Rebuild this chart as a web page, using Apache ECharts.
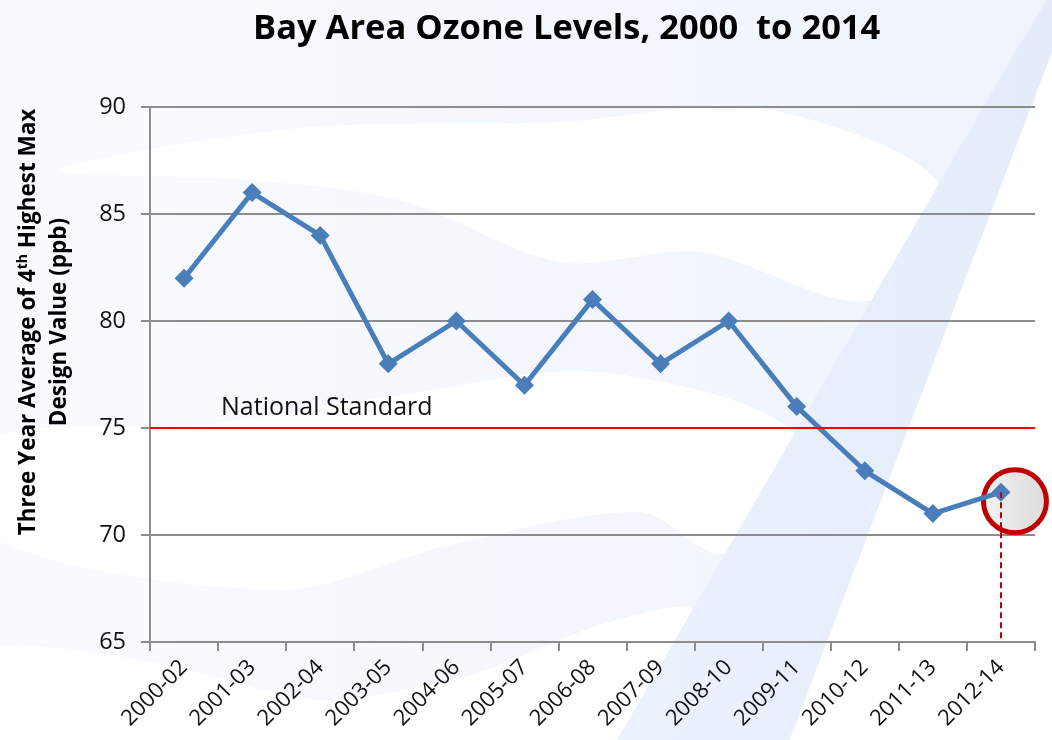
<!DOCTYPE html>
<html>
<head>
<meta charset="utf-8">
<script src="https://cdn.jsdelivr.net/npm/echarts@6/dist/echarts.min.js"></script>
<style>
  html, body { margin: 0; padding: 0; background: #fff; }
  #chart { width: 1052px; height: 740px; }
</style>
</head>
<body>
<div id="chart"></div>
<script>
  // data
  const periods = ['2000-02', '2001-03', '2002-04', '2003-05', '2004-06', '2005-07', '2006-08',
    '2007-09', '2008-10', '2009-11', '2010-12', '2011-13', '2012-14'];
  const ozone = [82, 86, 84, 78, 80, 77, 81, 78, 80, 76, 73, 71, 72];
  const nationalStandard = 75;
  const yTicks = { min: 65, max: 90, interval: 5 };

  const lastIdx = periods.length - 1;
  const font = '"Open Sans", "Noto Sans", sans-serif';

  let myChart = echarts.init(document.getElementById('chart'));

  // background decoration (light blue swooshes behind the plot)
  const bgShapes = [
    {
      type: 'rect', z: -110, silent: true,
      shape: { x: 0, y: 0, width: 1052, height: 740 },
      style: {
        fill: new echarts.graphic.LinearGradient(0, 0, 1, 0, [
          { offset: 0, color: '#fafbfe' },
          { offset: 1, color: '#eef3fc' }
        ])
      }
    },
    // white gaps between the swooshes
    {
      type: 'polygon', z: -100, silent: true,
      shape: {
        smooth: 0.3,
        points: [[60, 170], [300, 128], [560, 122], [760, 108], [940, 185], [872, 300], [700, 252], [560, 262], [400, 200], [250, 180]]
      },
      style: { fill: '#ffffff' }
    },
    {
      type: 'polygon', z: -100, silent: true,
      shape: {
        smooth: 0.3,
        points: [[-10, 440], [200, 425], [400, 395], [600, 372], [795, 435], [725, 553], [640, 512], [450, 545], [280, 590], [-10, 537]]
      },
      style: { fill: '#ffffff' }
    },
    {
      type: 'polygon', z: -100, silent: true,
      shape: {
        smooth: 0.25,
        points: [[-10, 650], [150, 662], [320, 700], [470, 675], [600, 625], [692, 610], [617, 745], [-10, 745]]
      },
      style: { fill: '#ffffff' }
    },
    {
      type: 'polygon', z: -100, silent: true,
      shape: { points: [[1060, 30], [1100, 30], [1100, 745], [788, 745]] },
      style: { fill: '#ffffff' }
    },
    // the big diagonal stroke
    {
      type: 'polygon', z: -90, silent: true,
      shape: { points: [[1047, 0], [1072, 0], [789, 740], [617, 740], [1018, 47]] },
      style: {
        fill: new echarts.graphic.LinearGradient(0, 0, 1, 0, [
          { offset: 0, color: '#ecf2fc' },
          { offset: 1, color: '#e4ecfb' }
        ])
      }
    }
  ];

  let option = {
    animation: false,
    backgroundColor: '#ffffff',
    textStyle: { fontFamily: font },
    title: {
      text: 'Bay Area Ozone Levels, 2000  to 2014',
      left: 248,
      top: 7,
      textStyle: { fontSize: 34.5, fontWeight: 'bold', color: '#000', fontFamily: font }
    },
    grid: { left: 150, right: 17, top: 107, bottom: 98 },
    graphic: bgShapes.concat([
      {
        type: 'text', silent: true,
        x: 44, y: 322,
        rotation: Math.PI / 2,
        style: {
          text: '{a|Three Year Average of 4}{s|th}{a| Highest Max}\n{a|Design Value (ppb)}',
          align: 'center',
          verticalAlign: 'middle',
          rich: {
            a: { fontSize: 22.5, fontWeight: 'bold', color: '#111', lineHeight: 31, fontFamily: font },
            s: { fontSize: 14, fontWeight: 'bold', color: '#111', lineHeight: 31, verticalAlign: 'top', padding: [3, 0, 0, 0], fontFamily: font }
          }
        }
      }
    ]),
    xAxis: {
      type: 'category',
      data: periods,
      boundaryGap: true,
      axisLine: { lineStyle: { color: '#8c8c8c', width: 2 } },
      axisTick: { show: true, length: 9, lineStyle: { color: '#8c8c8c', width: 2 } },
      axisLabel: { rotate: 45, fontSize: 22, color: '#111', margin: 22, interval: 0, fontFamily: font },
      splitLine: { show: false }
    },
    yAxis: {
      type: 'value',
      min: yTicks.min,
      max: yTicks.max,
      interval: yTicks.interval,
      axisLine: { show: true, lineStyle: { color: '#8c8c8c', width: 2 } },
      axisTick: { show: true, length: 9, lineStyle: { color: '#8c8c8c', width: 2 } },
      axisLabel: { fontSize: 23.5, color: '#111', margin: 24, fontFamily: font },
      splitLine: { lineStyle: { color: '#8c8c8c', width: 2 } }
    },
    series: [
      {
        // highlight circle round the latest value
        name: 'highlight',
        type: 'scatter',
        z: 1,
        data: [[lastIdx, ozone[lastIdx]]],
        symbol: 'circle',
        symbolSize: 63,
        symbolOffset: [14, 9],
        itemStyle: {
          color: new echarts.graphic.LinearGradient(0, 0, 1, 0, [
            { offset: 0, color: '#f4f4f4' },
            { offset: 1, color: '#dadada' }
          ]),
          borderColor: '#c00000',
          borderWidth: 5,
          opacity: 1
        },
        markLine: {
          silent: true,
          symbol: 'none',
          z: 4,
          lineStyle: { color: '#c00000', type: [6, 4], width: 2 },
          label: { show: false },
          data: [[{ coord: [lastIdx, ozone[lastIdx]] }, { coord: [lastIdx, yTicks.min] }]]
        }
      },
      {
        name: 'Ozone',
        type: 'line',
        z: 3,
        data: ozone,
        symbol: 'diamond',
        symbolSize: 19,
        itemStyle: { color: '#4a7ebb' },
        lineStyle: { color: '#4a7ebb', width: 5 },
        markLine: {
          silent: true,
          symbol: 'none',
          lineStyle: { color: '#ff0000', type: 'solid', width: 2 },
          label: {
            show: true,
            position: 'insideStartTop',
            formatter: 'National Standard',
            fontSize: 25,
            color: '#111',
            padding: [0, 0, 3, 66],
            fontFamily: font
          },
          data: [{ yAxis: nationalStandard }]
        }
      }
    ]
  };
  myChart.setOption(option);
</script>
</body>
</html>
